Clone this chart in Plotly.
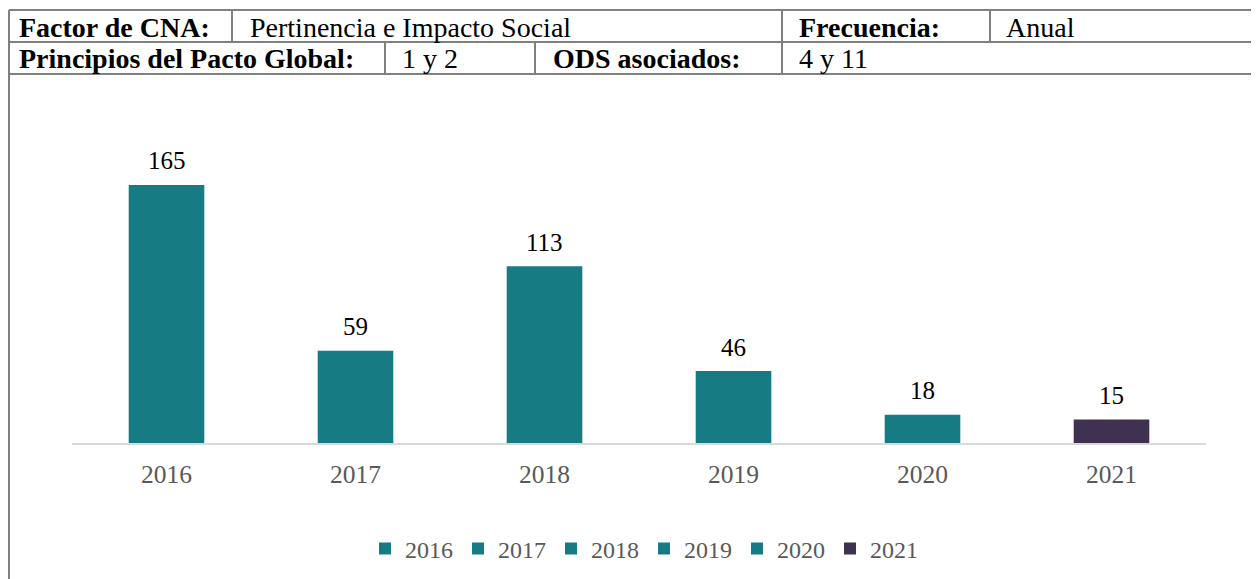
import plotly.graph_objects as go

years = ["2016", "2017", "2018", "2019", "2020", "2021"]
values = [165, 59, 113, 46, 18, 15]
colors = ["#167B83", "#167B83", "#167B83", "#167B83", "#167B83", "#3F3150"]

header_row1 = [("Factor de CNA:", True, 17), ("Pertinencia e Impacto Social", False, 248),
               ("Frecuencia:", True, 797), ("Anual", False, 1004)]
header_row2 = [("Principios del Pacto Global:", True, 17), ("1 y 2", False, 400),
               ("ODS asociados:", True, 551), ("4 y 11", False, 797)]

OFF = 8  # page body margin
W, H = 1259 - OFF, 579 - OFF
FONT = "Liberation Serif"


def px(x):
    return (x - OFF) / W


def py(y):
    return 1 - (y - OFF) / H


fig = go.Figure()
for yr, v, c in zip(years, values, colors):
    fig.add_trace(go.Bar(
        x=[yr], y=[v], name=yr, marker=dict(color=c, line=dict(width=0)),
        width=0.4, cliponaxis=False,
    ))

shapes = []
line = dict(color="#808080", width=2)
for y in [10, 42, 74]:
    shapes.append(dict(type="line", xref="paper", yref="paper", x0=px(9), x1=1.0, y0=py(y), y1=py(y), line=line))
shapes.append(dict(type="line", xref="paper", yref="paper", x0=px(9), x1=px(9), y0=py(10), y1=0, line=line))
for x in [232, 782, 990]:
    shapes.append(dict(type="line", xref="paper", yref="paper", x0=px(x), x1=px(x), y0=py(10), y1=py(42), line=line))
for x in [385, 535, 782]:
    shapes.append(dict(type="line", xref="paper", yref="paper", x0=px(x), x1=px(x), y0=py(42), y1=py(74), line=line))

annotations = []
for row, yc in [(header_row1, 27), (header_row2, 59)]:
    for txt, bold, x in row:
        annotations.append(dict(
            text=f"<b>{txt}</b>" if bold else txt, x=px(x), y=py(yc), xref="paper", yref="paper",
            xanchor="left", yanchor="middle", showarrow=False,
            font=dict(family=FONT, size=28, color="#000000"),
        ))

# data labels above bars, placed through the axes (category index on x)
for i, v in enumerate(values):
    annotations.append(dict(
        text=str(v), x=i, y=v, xref="x", yref="y", xanchor="center", yanchor="middle",
        yshift=24, showarrow=False, font=dict(family=FONT, size=25, color="#000000"),
    ))

fig.update_layout(
    width=W, height=H,
    margin=dict(l=0, r=0, t=0, b=0, autoexpand=False),
    paper_bgcolor="white", plot_bgcolor="white",
    barmode="overlay",
    shapes=shapes, annotations=annotations,
    font=dict(family=FONT, size=25, color="#595959"),
    xaxis=dict(type="category", categoryorder="array", categoryarray=years,
               range=[-0.5, len(years) - 0.5], automargin=False,
               domain=[px(72), px(1206)], showline=True, linecolor="#D9D9D9", linewidth=2,
               showgrid=False, ticks="outside", ticklen=7, tickcolor="rgba(0,0,0,0)",
               tickfont=dict(size=25.5, color="#595959", family=FONT), fixedrange=True),
    yaxis=dict(domain=[py(443), py(161.5)], range=[0, 180], visible=False, showgrid=False,
               automargin=False),
    legend=dict(orientation="h", x=px(644), xanchor="center", y=py(549), yanchor="middle",
                font=dict(size=24, color="#595959", family=FONT), itemwidth=30,
                traceorder="normal"),
    showlegend=True,
)

fig.write_html("out.html")
